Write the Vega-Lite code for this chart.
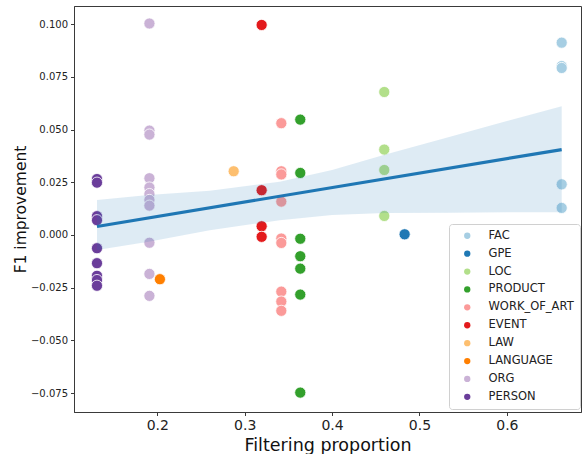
{
  "$schema": "https://vega.github.io/schema/vega-lite/v6.json",
  "width": 507,
  "height": 406,
  "autosize": {"type": "none"},
  "padding": {"left": 74, "top": 6, "right": 1, "bottom": 42},
  "background": "white",
  "config": {
    "view": {"stroke": "#3a3a3a", "strokeWidth": 1},
    "font": "DejaVu Sans",
    "axis": {
      "grid": false,
      "domainColor": "#3a3a3a",
      "tickColor": "#3a3a3a",
      "tickSize": 3.5,
      "labelColor": "#222",
      "titleColor": "#111",
      "titleFontWeight": "normal",
      "labelFont": "DejaVu Sans",
      "titleFont": "DejaVu Sans"
    }
  },
  "datasets": {
    "points": [
      {"x": 0.131, "y": 0.0265, "label": "PERSON"},
      {"x": 0.131, "y": 0.0248, "label": "PERSON"},
      {"x": 0.131, "y": 0.0089, "label": "PERSON"},
      {"x": 0.131, "y": 0.0070, "label": "PERSON"},
      {"x": 0.131, "y": -0.0063, "label": "PERSON"},
      {"x": 0.131, "y": -0.0134, "label": "PERSON"},
      {"x": 0.131, "y": -0.0194, "label": "PERSON"},
      {"x": 0.131, "y": -0.0214, "label": "PERSON"},
      {"x": 0.131, "y": -0.0241, "label": "PERSON"},
      {"x": 0.191, "y": 0.1003, "label": "ORG"},
      {"x": 0.191, "y": 0.0495, "label": "ORG"},
      {"x": 0.191, "y": 0.0476, "label": "ORG"},
      {"x": 0.191, "y": 0.0269, "label": "ORG"},
      {"x": 0.191, "y": 0.0225, "label": "ORG"},
      {"x": 0.191, "y": 0.0194, "label": "ORG"},
      {"x": 0.191, "y": 0.0166, "label": "ORG"},
      {"x": 0.191, "y": 0.0139, "label": "ORG"},
      {"x": 0.191, "y": -0.0037, "label": "ORG"},
      {"x": 0.191, "y": -0.0185, "label": "ORG"},
      {"x": 0.191, "y": -0.0289, "label": "ORG"},
      {"x": 0.203, "y": -0.0210, "label": "LANGUAGE"},
      {"x": 0.2874, "y": 0.0302, "label": "LAW"},
      {"x": 0.3194, "y": 0.0996, "label": "EVENT"},
      {"x": 0.3194, "y": 0.0212, "label": "EVENT"},
      {"x": 0.3194, "y": 0.0041, "label": "EVENT"},
      {"x": 0.3194, "y": -0.0009, "label": "EVENT"},
      {"x": 0.3419, "y": 0.0530, "label": "WORK_OF_ART"},
      {"x": 0.3419, "y": 0.0302, "label": "WORK_OF_ART"},
      {"x": 0.3419, "y": 0.0287, "label": "WORK_OF_ART"},
      {"x": 0.3419, "y": 0.0158, "label": "WORK_OF_ART"},
      {"x": 0.3419, "y": -0.0017, "label": "WORK_OF_ART"},
      {"x": 0.3419, "y": -0.0038, "label": "WORK_OF_ART"},
      {"x": 0.3419, "y": -0.0269, "label": "WORK_OF_ART"},
      {"x": 0.3419, "y": -0.0316, "label": "WORK_OF_ART"},
      {"x": 0.3419, "y": -0.0360, "label": "WORK_OF_ART"},
      {"x": 0.3636, "y": 0.0547, "label": "PRODUCT"},
      {"x": 0.3636, "y": 0.0294, "label": "PRODUCT"},
      {"x": 0.3636, "y": -0.0018, "label": "PRODUCT"},
      {"x": 0.3636, "y": -0.0101, "label": "PRODUCT"},
      {"x": 0.3636, "y": -0.0160, "label": "PRODUCT"},
      {"x": 0.3636, "y": -0.0283, "label": "PRODUCT"},
      {"x": 0.3636, "y": -0.0748, "label": "PRODUCT"},
      {"x": 0.4597, "y": 0.0678, "label": "LOC"},
      {"x": 0.4597, "y": 0.0405, "label": "LOC"},
      {"x": 0.4597, "y": 0.0308, "label": "LOC"},
      {"x": 0.4597, "y": 0.0090, "label": "LOC"},
      {"x": 0.483, "y": 0.0003, "label": "GPE"},
      {"x": 0.6627, "y": 0.0912, "label": "FAC"},
      {"x": 0.6627, "y": 0.0801, "label": "FAC"},
      {"x": 0.6627, "y": 0.0792, "label": "FAC"},
      {"x": 0.6627, "y": 0.0240, "label": "FAC"},
      {"x": 0.6627, "y": 0.0128, "label": "FAC"}
    ],
    "band": [
      {"x": 0.131, "lo": -0.0071, "hi": 0.0166},
      {"x": 0.19, "lo": -0.0032, "hi": 0.0190},
      {"x": 0.26, "lo": 0.0022, "hi": 0.0210},
      {"x": 0.34, "lo": 0.0070, "hi": 0.0252},
      {"x": 0.40, "lo": 0.0095, "hi": 0.0308},
      {"x": 0.46, "lo": 0.0104, "hi": 0.0380},
      {"x": 0.535, "lo": 0.0105, "hi": 0.0466},
      {"x": 0.60, "lo": 0.0107, "hi": 0.0540},
      {"x": 0.6627, "lo": 0.0108, "hi": 0.0610}
    ],
    "fit": [
      {"x": 0.131, "y": 0.0040},
      {"x": 0.6627, "y": 0.0405}
    ]
  },
  "layer": [
    {
      "data": {"name": "points"},
      "mark": {"type": "circle", "size": 125, "opacity": 1, "stroke": "white", "strokeWidth": 0.8},
      "encoding": {
        "x": {
          "field": "x", "type": "quantitative",
          "scale": {"domain": [0.1047, 0.6848], "nice": false, "zero": false},
          "axis": {"values": [0.2, 0.3, 0.4, 0.5, 0.6], "format": ".1f", "title": "Filtering proportion", "labelFontSize": 14, "titleFontSize": 17.5, "labelPadding": 3, "titlePadding": 4}
        },
        "y": {
          "field": "y", "type": "quantitative",
          "scale": {"domain": [-0.084, 0.1086], "nice": false, "zero": false},
          "axis": {"values": [-0.075, -0.05, -0.025, 0, 0.025, 0.05, 0.075, 0.1], "format": ".3f", "title": "F1 improvement", "labelFontSize": 10, "titleFontSize": 15.5, "labelPadding": 3, "titlePadding": 2}
        },
        "color": {
          "field": "label", "type": "nominal",
          "scale": {
            "domain": ["FAC", "GPE", "LOC", "PRODUCT", "WORK_OF_ART", "EVENT", "LAW", "LANGUAGE", "ORG", "PERSON"],
            "range": ["#a6cee3", "#1f78b4", "#b2df8a", "#33a02c", "#fb9a99", "#e31a1c", "#fdbf6f", "#ff7f00", "#cab2d6", "#6a3d9a"]
          },
          "legend": {
            "title": null,
            "orient": "none",
            "legendX": 375,
            "legendY": 218,
            "symbolType": "circle",
            "symbolSize": 40,
            "symbolStrokeWidth": 0,
            "symbolOffset": 6.5,
            "labelFontSize": 11.5,
            "labelFont": "DejaVu Sans",
            "labelColor": "#222",
            "rowPadding": 4.9,
            "labelOffset": 15.5,
            "padding": 6,
            "strokeColor": "#d0d0d0",
            "fillColor": "rgba(255,255,255,0.85)",
            "cornerRadius": 3,
            "offset": 0
          }
        }
      }
    },
    {
      "data": {"name": "band"},
      "mark": {"type": "area", "color": "#1f77b4", "opacity": 0.15},
      "encoding": {
        "x": {"field": "x", "type": "quantitative"},
        "y": {"field": "lo", "type": "quantitative"},
        "y2": {"field": "hi"}
      }
    },
    {
      "data": {"name": "fit"},
      "mark": {"type": "line", "color": "#1f77b4", "strokeWidth": 3.2},
      "encoding": {
        "x": {"field": "x", "type": "quantitative"},
        "y": {"field": "y", "type": "quantitative"}
      }
    }
  ]
}
